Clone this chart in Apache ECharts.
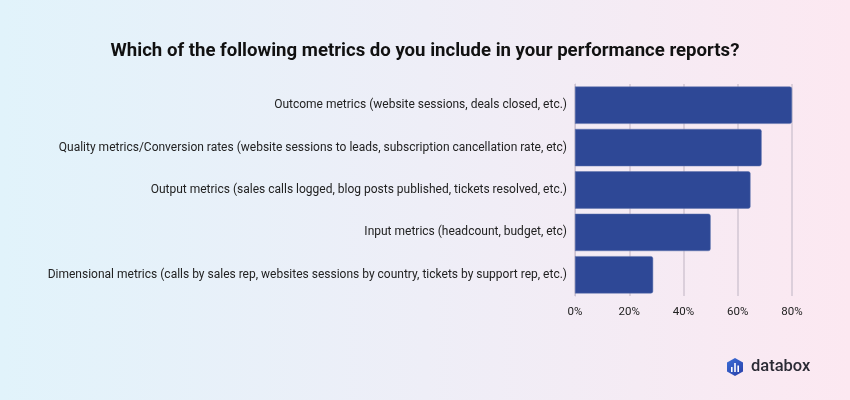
<!DOCTYPE html>
<html><head><meta charset="utf-8">
<script src="https://cdn.jsdelivr.net/npm/echarts@6/dist/echarts.min.js"></script>
<style>html,body{margin:0;padding:0;}#c{width:850px;height:400px;background:linear-gradient(90deg,#e1f3fb 0%,#eeeef7 50%,#fce8f1 100%);}</style>
</head><body><div id="c"></div>
<script>
const categories = [
  "Outcome metrics (website sessions, deals closed, etc.)",
  "Quality metrics/Conversion rates (website sessions to leads, subscription cancellation rate, etc)",
  "Output metrics (sales calls logged, blog posts published, tickets resolved, etc.)",
  "Input metrics (headcount, budget, etc)",
  "Dimensional metrics (calls by sales rep, websites sessions by country, tickets by support rep, etc.)"
];
const values = [80, 68.8, 64.7, 50, 28.8];
const xTicks = [0, 20, 40, 60, 80];
const title = "Which of the following metrics do you include in your performance reports?";

const chart = echarts.init(document.getElementById('c'), null, {renderer: 'canvas'});
chart.setOption({
  backgroundColor: 'transparent',
  title: {text: title, left: 'center', top: 37,
    textStyle: {fontFamily: 'Roboto', fontWeight: 'bold', fontSize: 18.6, color: '#111'}},
  grid: {left: 575, right: 58, top: 84, bottom: 104},
  xAxis: {type: 'value', min: xTicks[0], max: xTicks[xTicks.length-1], interval: 20,
    axisLine: {show: false}, axisTick: {show: false},
    splitLine: {lineStyle: {color: '#d2c6d3', width: 1.5}},
    axisLabel: {formatter: v => v + '%', color: '#222', fontFamily: 'Roboto', fontSize: 11.5, margin: 10}},
  yAxis: {type: 'category', inverse: true, data: categories,
    axisLine: {show: true, lineStyle: {color: '#c9c3d3'}}, axisTick: {show: false},
    axisLabel: {color: '#222', fontFamily: 'Roboto', fontSize: 12, margin: 8}},
  series: [{type: 'bar', data: values, barCategoryGap: '12%',
    itemStyle: {color: '#2e4896', borderRadius: [0, 2, 2, 0], borderColor: '#5d72ad', borderWidth: 0.5},
    silent: true}],
  graphic: [
    {type: 'polygon', shape: {points: [[735,358],[743,362.5],[743,371.5],[735,376],[727,371.5],[727,362.5]]},
      style: {fill: new echarts.graphic.LinearGradient(0,0,1,1,[{offset:0,color:'#3a6fd8'},{offset:1,color:'#2a3fa8'}])}},
    {type: 'rect', shape: {x: 731, y: 367, width: 1.6, height: 5}, style: {fill: '#fff'}},
    {type: 'rect', shape: {x: 734.2, y: 363, width: 1.6, height: 9}, style: {fill: '#fff'}},
    {type: 'rect', shape: {x: 737.4, y: 365.5, width: 1.6, height: 6.5}, style: {fill: '#fff'}},
    {type: 'text', left: 751, top: 358, style: {text: 'databox', fontFamily: 'Roboto', fontWeight: 500, fontSize: 16.5, fill: '#2b2b35'}}
  ]
});
</script></body></html>
